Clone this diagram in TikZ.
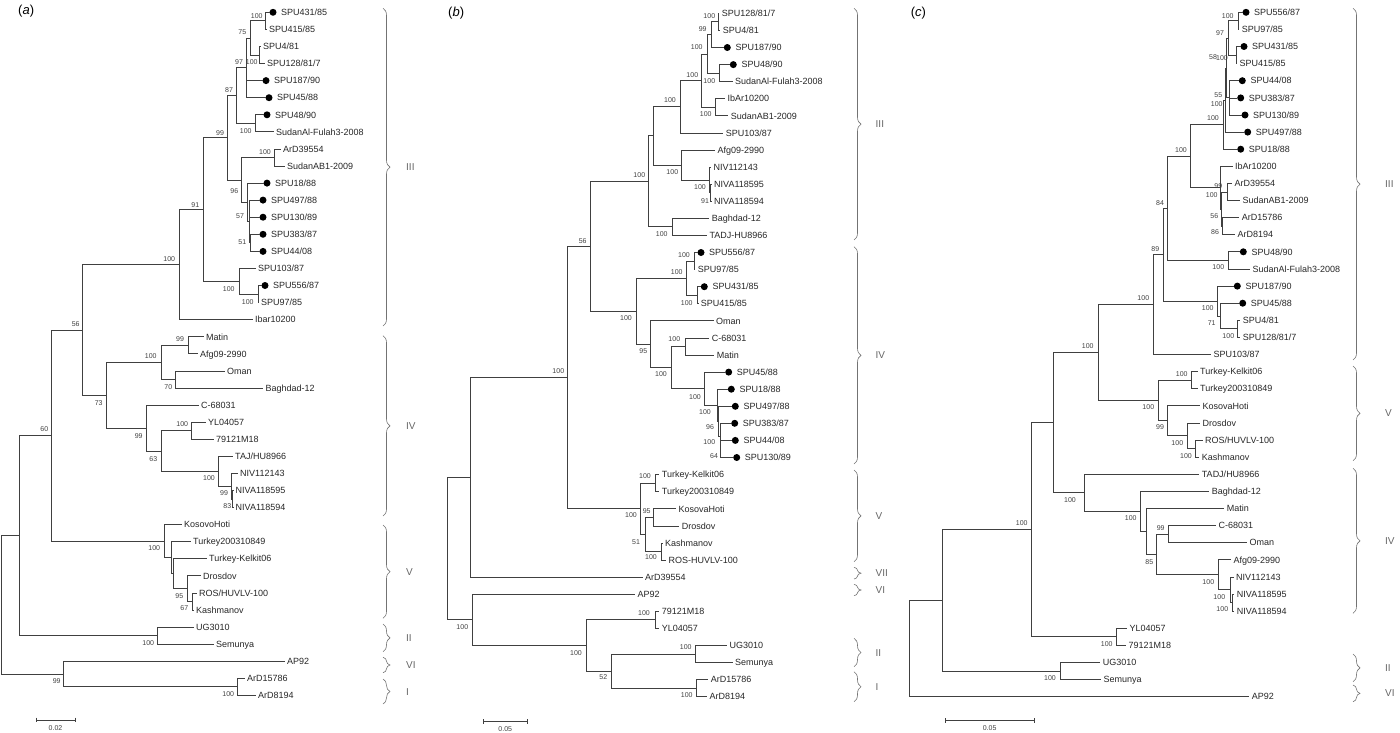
\documentclass[tikz,border=0pt]{standalone}
\usepackage{fontspec}
\setmainfont{Liberation Sans}
\usetikzlibrary{decorations.pathreplacing}

\tikzset{
  branch/.style={draw=black!75, line width=0.75pt},
  leaflab/.style={anchor=west, inner sep=0pt, text height=6.4pt, text depth=0pt,
    font=\fontsize{9}{10}\selectfont, text=black!85},
  leafdot/.style={circle, fill=black, inner sep=0pt, minimum size=7pt},
  bootlab/.style={inner sep=0pt, text height=5pt, text depth=0pt,
    font=\fontsize{7}{8}\selectfont, text=black!75},
  cladelab/.style={anchor=west, inner sep=0pt, text height=7.2pt, text depth=0pt,
    font=\fontsize{10}{12}\selectfont, text=black!60},
  cladebr/.style={draw=black!55, line width=0.6pt, decorate,
    decoration={brace, amplitude=7pt}},
  panlab/.style={anchor=west, inner sep=0pt, font=\fontsize{13}{15}\selectfont},
  scalebar/.style={draw=black!75, line width=0.75pt},
}

\newcounter{bootn}
% leaf: name, x of tip, y, text
\newcommand{\taxon}[4]{\coordinate (#1) at (#2,#3);
  \node[leaflab] (#1l) at ([xshift=2.5pt]#1) {#4};}
% leaf with a dot
\newcommand{\dtaxon}[4]{\coordinate (#1) at (#2,#3);
  \node[leafdot] (#1d) at ([xshift=3.5pt]#1) {};
  \node[leaflab] (#1l) at ([xshift=11.5pt]#1) {#4};}
\newcommand{\inode}[3]{\coordinate (#1) at (#2,#3);}
\newcommand{\clade}[2]{\foreach \k in {#2} {\draw[branch] (#1) |- (\k);}}
\newcommand{\boot}[3]{\stepcounter{bootn}\node[bootlab] (bt\arabic{bootn}) at (#1,#2) {#3};}
% brace: name, x, y1, y2, label x, text
\newcommand{\cladebrace}[6]{\draw[cladebr] (#2,#3) -- (#2,#4);
  \node[cladelab] (#1) at (#5,{(#3+#4)/2}) {#6};}

\begin{document}
\begin{tikzpicture}[x=1pt, y=-1pt]
\useasboundingbox (0,0) rectangle (1400,732);

%% ---------------- panel (a)
\node[panlab] (alab) at (18,11) {(\textit{a})};
\dtaxon{a1}{269.5}{12.3}{SPU431/85}
\taxon{a2}{266.5}{29.4}{SPU415/85}
\taxon{a3}{260.5}{46.5}{SPU4/81}
\taxon{a4}{264.5}{63.5}{SPU128/81/7}
\dtaxon{a5}{262.5}{80.6}{SPU187/90}
\dtaxon{a6}{265.5}{97.7}{SPU45/88}
\dtaxon{a7}{263.5}{114.8}{SPU48/90}
\taxon{a8}{273.5}{131.8}{SudanAl-Fulah3-2008}
\taxon{a9}{280.5}{148.9}{ArD39554}
\taxon{a10}{284.5}{166.0}{SudanAB1-2009}
\dtaxon{a11}{263.5}{183.1}{SPU18/88}
\dtaxon{a12}{259.5}{200.1}{SPU497/88}
\dtaxon{a13}{259.5}{217.2}{SPU130/89}
\dtaxon{a14}{259.5}{234.3}{SPU383/87}
\dtaxon{a15}{259.5}{251.4}{SPU44/08}
\taxon{a16}{255.5}{268.4}{SPU103/87}
\dtaxon{a17}{261.5}{285.5}{SPU556/87}
\taxon{a18}{258.5}{302.6}{SPU97/85}
\taxon{a19}{252.5}{319.7}{Ibar10200}
\taxon{a20}{203.5}{336.8}{Matin}
\taxon{a21}{197.5}{353.8}{Afg09-2990}
\taxon{a22}{224.5}{370.9}{Oman}
\taxon{a23}{263}{388.0}{Baghdad-12}
\taxon{a24}{198.5}{405.1}{C-68031}
\taxon{a25}{205.5}{422.1}{YL04057}
\taxon{a26}{213.5}{439.2}{79121M18}
\taxon{a27}{232.5}{456.3}{TAJ/HU8966}
\taxon{a28}{237.5}{473.4}{NIV112143}
\taxon{a29}{233}{490.4}{NIVA118595}
\taxon{a30}{233}{507.5}{NIVA118594}
\taxon{a31}{181.5}{524.6}{KosovoHoti}
\taxon{a32}{190.5}{541.7}{Turkey200310849}
\taxon{a33}{206.5}{558.7}{Turkey-Kelkit06}
\taxon{a34}{200.5}{575.8}{Drosdov}
\taxon{a35}{196.5}{592.9}{ROS/HUVLV-100}
\taxon{a36}{193.5}{610.0}{Kashmanov}
\taxon{a37}{193.5}{627.1}{UG3010}
\taxon{a38}{213.5}{644.1}{Semunya}
\taxon{a39}{284.5}{661.2}{AP92}
\taxon{a40}{244.5}{678.3}{ArD15786}
\taxon{a41}{255.5}{695.4}{ArD8194}

\inode{aN1}{265.7}{20.85}   \clade{aN1}{a1,a2}
\inode{aN2}{259.3}{55}      \clade{aN2}{a3,a4}
\inode{aN75}{250}{37.9}     \clade{aN75}{aN1,aN2}
\inode{aN97}{246.7}{67.8}   \clade{aN97}{aN75,a5,a6}
\inode{aN100d}{255}{123.3}  \clade{aN100d}{a7,a8}
\inode{aN87}{236.7}{95.55}  \clade{aN87}{aN97,aN100d}
\inode{aN100e}{274}{157.45} \clade{aN100e}{a9,a10}
\inode{aN51}{250}{242.85}   \clade{aN51}{a14,a15}
\inode{aN57}{249}{221.5}    \clade{aN57}{a12,a13,aN51}
\inode{aNA}{247.7}{202.3}   \clade{aNA}{a11,aN57}
\inode{aN96}{241.7}{179.9}  \clade{aN96}{aN100e,aNA}
\inode{aN99}{227.7}{137.7}  \clade{aN99}{aN87,aN96}
\inode{aNc}{258.3}{294.05}  \clade{aNc}{a17,a18}
\inode{aNb}{239.3}{281.2}   \clade{aNb}{a16,aNc}
\inode{aN91}{203.3}{209.5}  \clade{aN91}{aN99,aNb}
\inode{aN100}{179}{264.6}   \clade{aN100}{aN91,a19}
\inode{aN99c}{188.3}{345.3} \clade{aN99c}{a20,a21}
\inode{aN70}{175.7}{379.45} \clade{aN70}{a22,a23}
\inode{aN100f}{161}{362.4}  \clade{aN100f}{aN99c,aN70}
\inode{aN100g}{191.7}{430.65} \clade{aN100g}{a25,a26}
\inode{aN99d}{232.5}{498.95} \clade{aN99d}{a29,a30}
\inode{aNNIV}{231.5}{486.2} \clade{aNNIV}{a28,aN99d}
\inode{aN100h}{218.3}{471.25} \clade{aN100h}{a27,aNNIV}
\inode{aN63}{161}{450.95}   \clade{aN63}{aN100g,aN100h}
\inode{aN99b}{146.7}{428}   \clade{aN99b}{a24,aN63}
\inode{aN73}{106.7}{395.2}  \clade{aN73}{aN100f,aN99b}
\inode{aN56}{82.7}{329.9}   \clade{aN56}{aN100,aN73}
\inode{aN67}{192.7}{601.45} \clade{aN67}{a35,a36}
\inode{aN95}{187.3}{588.6}  \clade{aN95}{a34,aN67}
\inode{aNT2}{173.3}{573.65} \clade{aNT2}{a33,aN95}
\inode{aNT}{171.7}{557.7}   \clade{aNT}{a32,aNT2}
\inode{aN100i}{164}{541.15} \clade{aN100i}{a31,aNT}
\inode{aN60}{51.7}{435.5}   \clade{aN60}{aN56,aN100i}
\inode{aNUG}{157.3}{635.6}  \clade{aNUG}{a37,a38}
\inode{aNr1}{19}{535.55}    \clade{aNr1}{aN60,aNUG}
\inode{aNArD}{237.7}{686.85} \clade{aNArD}{a40,a41}
\inode{aN99AP}{63.7}{674}   \clade{aN99AP}{a39,aNArD}
\inode{aRoot}{1.5}{604.8}   \clade{aRoot}{aNr1,aN99AP}

\boot{256.7}{15.7}{100} \boot{242.3}{32.3}{75} \boot{239}{61.7}{97}
\boot{251.7}{61.7}{100} \boot{229}{90}{87} \boot{245.7}{131}{100}
\boot{220}{133.3}{99} \boot{265}{151.7}{100} \boot{234.3}{190.7}{96}
\boot{240}{216}{57} \boot{242.3}{242.3}{51} \boot{195.3}{204.7}{91}
\boot{169.3}{259}{100} \boot{228.7}{289.3}{100} \boot{247.7}{302}{100}
\boot{75.7}{324}{56} \boot{180}{339.3}{99} \boot{150.7}{356}{100}
\boot{168.3}{386.7}{70} \boot{98.7}{403}{73} \boot{182.3}{424.3}{100}
\boot{138.7}{436}{99} \boot{153.3}{458.7}{63} \boot{209}{478.3}{100}
\boot{224}{493.3}{99} \boot{227.3}{506}{83} \boot{44.3}{429.3}{60}
\boot{154.3}{548.3}{100} \boot{179.3}{596}{95} \boot{184.3}{608.3}{67}
\boot{148.3}{642.7}{100} \boot{56.7}{681}{99} \boot{228.3}{694.3}{100}

\cladebrace{aIII}{383}{8.3}{326}{406}{III}
\cladebrace{aIV}{383}{335.7}{516}{406}{IV}
\cladebrace{aV}{383}{525}{618.3}{406}{V}
\cladebrace{aII}{383}{624}{651.7}{406}{II}
\cladebrace{aVI}{383}{657.3}{672.7}{406}{VI}
\cladebrace{aI}{383}{679}{704}{406}{I}

\coordinate (asb1) at (36,720); \coordinate (asb2) at (75,720);
\draw[scalebar] (asb1) -- (asb2) ([yshift=2.3pt]asb1) -- ([yshift=-2.3pt]asb1)
  ([yshift=2.3pt]asb2) -- ([yshift=-2.3pt]asb2);
\node[bootlab] (asbl) at (55.5,728.3) {0.02};

%% ---------------- panel (b)
\node[panlab] (blab) at (448,13) {(\textit{b})};
\taxon{b1}{719.2}{13.3}{SPU128/81/7}
\taxon{b2}{720.2}{30.4}{SPU4/81}
\dtaxon{b3}{723.8}{47.5}{SPU187/90}
\dtaxon{b4}{729.8}{64.6}{SPU48/90}
\taxon{b5}{732.5}{81.6}{SudanAl-Fulah3-2008}
\taxon{b6}{724.8}{98.7}{IbAr10200}
\taxon{b7}{728.2}{115.8}{SudanAB1-2009}
\taxon{b8}{723.2}{132.9}{SPU103/87}
\taxon{b9}{714.8}{150.0}{Afg09-2990}
\taxon{b10}{710.8}{167.1}{NIV112143}
\taxon{b11}{711.5}{184.2}{NIVA118595}
\taxon{b12}{711.5}{201.2}{NIVA118594}
\taxon{b13}{709.2}{218.3}{Baghdad-12}
\taxon{b14}{706.8}{235.4}{TADJ-HU8966}
\dtaxon{b15}{697.5}{252.5}{SPU556/87}
\taxon{b16}{695.2}{269.6}{SPU97/85}
\dtaxon{b17}{700.8}{286.7}{SPU431/85}
\taxon{b18}{698.2}{303.7}{SPU415/85}
\taxon{b19}{713.5}{320.8}{Oman}
\taxon{b20}{709.2}{337.9}{C-68031}
\taxon{b21}{714.2}{355.0}{Matin}
\dtaxon{b22}{725.2}{372.1}{SPU45/88}
\dtaxon{b23}{727.8}{389.2}{SPU18/88}
\dtaxon{b24}{731.8}{406.3}{SPU497/88}
\dtaxon{b25}{731.2}{423.3}{SPU383/87}
\dtaxon{b26}{731.8}{440.4}{SPU44/08}
\dtaxon{b27}{733.2}{457.5}{SPU130/89}
\taxon{b28}{659.2}{474.6}{Turkey-Kelkit06}
\taxon{b29}{659.2}{491.7}{Turkey200310849}
\taxon{b30}{675.8}{508.8}{KosovaHoti}
\taxon{b31}{679.2}{525.9}{Drosdov}
\taxon{b32}{662.5}{542.9}{Kashmanov}
\taxon{b33}{665.8}{560.0}{ROS-HUVLV-100}
\taxon{b34}{642.5}{577.1}{ArD39554}
\taxon{b35}{634.8}{594.2}{AP92}
\taxon{b36}{659.2}{611.3}{79121M18}
\taxon{b37}{659.2}{628.4}{YL04057}
\taxon{b38}{726.8}{645.5}{UG3010}
\taxon{b39}{732.5}{662.5}{Semunya}
\taxon{b40}{708.2}{679.6}{ArD15786}
\taxon{b41}{706.8}{696.7}{ArD8194}

\inode{bN1}{718.3}{21.85}    \clade{bN1}{b1,b2}
\inode{bN99}{711.7}{34.7}    \clade{bN99}{bN1,b3}
\inode{bNSA}{719.3}{73.1}    \clade{bNSA}{b4,b5}
\inode{bN100a}{707.7}{53.9}  \clade{bN100a}{bN99,bNSA}
\inode{bNIb}{715.7}{107.25}  \clade{bNIb}{b6,b7}
\inode{bN100b}{701.7}{80.6}  \clade{bN100b}{bN100a,bNIb}
\inode{bNu}{680.7}{106.75}   \clade{bNu}{bN100b,b8}
\inode{bN100N}{710}{192.7}   \clade{bN100N}{b11,b12}
\inode{bNNIV}{709.3}{179.9}  \clade{bNNIV}{b10,bN100N}
\inode{bNAfg}{681}{164.95}   \clade{bNAfg}{b9,bNNIV}
\inode{bNA}{653.3}{135.85}   \clade{bNA}{bNu,bNAfg}
\inode{bNBT}{672.3}{226.85}  \clade{bNBT}{b13,b14}
\inode{bNIII}{648.3}{181.35} \clade{bNIII}{bNA,bNBT}
\inode{bN100x1}{694.3}{261.05} \clade{bN100x1}{b15,b16}
\inode{bN100x2}{697.7}{295.2}  \clade{bN100x2}{b17,b18}
\inode{bNSPU}{686.7}{278.1}  \clade{bNSPU}{bN100x1,bN100x2}
\inode{bNCM}{685}{346.45}    \clade{bNCM}{b20,b21}
\inode{bN64}{720.7}{448.95}  \clade{bN64}{b26,b27}
\inode{bN100u}{720}{436.1}   \clade{bN100u}{b25,bN64}
\inode{bN96}{718.7}{421.2}   \clade{bN96}{b24,bN100u}
\inode{bN100T}{717.3}{405.2} \clade{bN100T}{b23,bN96}
\inode{bNS}{704.3}{388.65}   \clade{bNS}{b22,bN100T}
\inode{bNL}{671}{367.55}     \clade{bNL}{bNCM,bNS}
\inode{bN95}{650.7}{344.2}   \clade{bN95}{b19,bNL}
\inode{bNIV}{636}{311.15}    \clade{bNIV}{bNSPU,bN95}
\inode{bN56}{590}{246.25}    \clade{bN56}{bNIII,bNIV}
\inode{bNTK}{655}{483.15}    \clade{bNTK}{b28,b29}
\inode{bN95V}{653.3}{517.35} \clade{bN95V}{b30,b31}
\inode{bNKR}{661.7}{551.45}  \clade{bNKR}{b32,b33}
\inode{bN51}{645.7}{534.4}   \clade{bN51}{bN95V,bNKR}
\inode{bNV}{640}{508.8}      \clade{bNV}{bNTK,bN51}
\inode{bN100X}{567.7}{377.5} \clade{bN100X}{bN56,bNV}
\inode{bNup}{470.7}{477.3}   \clade{bNup}{bN100X,b34}
\inode{bNYL}{655}{619.85}    \clade{bNYL}{b36,b37}
\inode{bNUG}{695.7}{654}     \clade{bNUG}{b38,b39}
\inode{bNArD}{696.7}{688.15} \clade{bNArD}{b40,b41}
\inode{bN52}{611.7}{671.1}   \clade{bN52}{bNUG,bNArD}
\inode{bNc}{586.7}{645.5}    \clade{bNc}{bNYL,bN52}
\inode{bNAP}{472.3}{619.85}  \clade{bNAP}{b35,bNc}
\inode{bRoot}{447.3}{548.6}  \clade{bRoot}{bNup,bNAP}

\boot{709.3}{15.7}{100} \boot{702.7}{29}{99} \boot{696.7}{47}{100}
\boot{709.3}{80.7}{100} \boot{692.3}{75.3}{100} \boot{705.7}{114.3}{100}
\boot{670}{100}{100} \boot{672.3}{172.3}{100} \boot{700}{186.7}{100}
\boot{705}{201}{91} \boot{661.7}{234.3}{100} \boot{639.3}{175}{100}
\boot{582.7}{240.7}{56} \boot{684}{255}{100} \boot{676.7}{271.7}{100}
\boot{686.7}{302.7}{100} \boot{626}{317.7}{100} \boot{643.3}{350.7}{95}
\boot{674.3}{339.3}{100} \boot{661}{374.3}{100} \boot{695}{396.7}{100}
\boot{705}{411.7}{100} \boot{710}{426.7}{96} \boot{709.3}{441.7}{100}
\boot{714}{455.7}{64} \boot{558.3}{371}{100} \boot{645}{476}{100}
\boot{646.7}{510.7}{95} \boot{631}{515}{100} \boot{636}{541.7}{51}
\boot{651}{557.3}{100} \boot{462.3}{626.7}{100} \boot{644}{613.3}{100}
\boot{576}{652.7}{100} \boot{685.7}{647.3}{100} \boot{603.3}{677.3}{52}
\boot{686.7}{695}{100}

\cladebrace{bIII}{854}{8.3}{240}{875.5}{III}
\cladebrace{bIV}{854}{246.7}{464}{875.5}{IV}
\cladebrace{bV}{854}{470}{561.7}{875.5}{V}
\cladebrace{bVII}{854}{567.3}{579}{875.5}{VII}
\cladebrace{bVI}{854}{584.3}{595.7}{875.5}{VI}
\cladebrace{bII}{854}{638.3}{666.7}{875.5}{II}
\cladebrace{bI}{854}{671.7}{701.7}{875.5}{I}

\coordinate (bsb1) at (483.3,721.7); \coordinate (bsb2) at (527.3,721.7);
\draw[scalebar] (bsb1) -- (bsb2) ([yshift=2.3pt]bsb1) -- ([yshift=-2.3pt]bsb1)
  ([yshift=2.3pt]bsb2) -- ([yshift=-2.3pt]bsb2);
\node[bootlab] (bsbl) at (505.3,728.6) {0.05};

%% ---------------- panel (c)
\node[panlab] (clab) at (910.7,13.3) {(\textit{c})};
\dtaxon{c1}{1242.5}{12.3}{SPU556/87}
\taxon{c2}{1239.2}{29.4}{SPU97/85}
\dtaxon{c3}{1240.5}{46.5}{SPU431/85}
\taxon{c4}{1236.8}{63.6}{SPU415/85}
\dtaxon{c5}{1238.8}{80.7}{SPU44/08}
\dtaxon{c6}{1237.2}{97.9}{SPU383/87}
\dtaxon{c7}{1241.5}{115.0}{SPU130/89}
\dtaxon{c8}{1244.2}{132.1}{SPU497/88}
\dtaxon{c9}{1237.2}{149.2}{SPU18/88}
\taxon{c10}{1232.5}{166.3}{IbAr10200}
\taxon{c11}{1231.8}{183.4}{ArD39554}
\taxon{c12}{1239.8}{200.5}{SudanAB1-2009}
\taxon{c13}{1239.2}{217.6}{ArD15786}
\taxon{c14}{1234.8}{234.7}{ArD8194}
\dtaxon{c15}{1239.8}{251.8}{SPU48/90}
\taxon{c16}{1249.8}{268.9}{SudanAl-Fulah3-2008}
\dtaxon{c17}{1233.8}{286.1}{SPU187/90}
\dtaxon{c18}{1239.2}{303.2}{SPU45/88}
\taxon{c19}{1240.2}{320.3}{SPU4/81}
\taxon{c20}{1240.2}{337.4}{SPU128/81/7}
\taxon{c21}{1210.8}{354.5}{SPU103/87}
\taxon{c22}{1197.5}{371.6}{Turkey-Kelkit06}
\taxon{c23}{1197.5}{388.7}{Turkey200310849}
\taxon{c24}{1199.8}{405.8}{KosovaHoti}
\taxon{c25}{1199.8}{422.9}{Drosdov}
\taxon{c26}{1202.5}{440.0}{ROS/HUVLV-100}
\taxon{c27}{1199.2}{457.1}{Kashmanov}
\taxon{c28}{1199.2}{474.2}{TADJ/HU8966}
\taxon{c29}{1209.2}{491.3}{Baghdad-12}
\taxon{c30}{1224.2}{508.4}{Matin}
\taxon{c31}{1215.8}{525.5}{C-68031}
\taxon{c32}{1246.8}{542.7}{Oman}
\taxon{c33}{1230.8}{559.8}{Afg09-2990}
\taxon{c34}{1233.5}{576.9}{NIV112143}
\taxon{c35}{1234.2}{594.0}{NIVA118595}
\taxon{c36}{1234.2}{611.1}{NIVA118594}
\taxon{c37}{1126.8}{628.2}{YL04057}
\taxon{c38}{1125.8}{645.3}{79121M18}
\taxon{c39}{1100.2}{662.4}{UG3010}
\taxon{c40}{1100.8}{679.5}{Semunya}
\taxon{c41}{1249.2}{696.6}{AP92}

\inode{cN100a}{1238.3}{20.85} \clade{cN100a}{c1,c2}
\inode{cN100b}{1236}{55.05}   \clade{cN100b}{c3,c4}
\inode{cN97}{1228}{37.95}     \clade{cN97}{cN100a,cN100b}
\inode{cN55}{1229.3}{97.85}   \clade{cN55}{c5,c6,c7}
\inode{cN58}{1226}{67.9}      \clade{cN58}{cN97,cN55}
\inode{cNX}{1225}{100}        \clade{cNX}{cN58,c8}
\inode{cNB}{1223.3}{124.6}    \clade{cNB}{cNX,c9}
\inode{cN99}{1227.7}{191.95}  \clade{cN99}{c11,c12}
\inode{cN86}{1222.5}{226.15}  \clade{cN86}{c13,c14}
\inode{cNY}{1221.3}{209.05}   \clade{cNY}{cN99,cN86}
\inode{cNC}{1220}{187.7}      \clade{cNC}{c10,cNY}
\inode{cNA}{1190.7}{156.15}   \clade{cNA}{cNB,cNC}
\inode{cNSA}{1228.3}{260.35}  \clade{cNSA}{c15,c16}
\inode{cN84}{1167.3}{208.25}  \clade{cN84}{cNA,cNSA}
\inode{cN100f}{1237.7}{328.85} \clade{cN100f}{c19,c20}
\inode{cN71}{1220}{316}       \clade{cN71}{c18,cN100f}
\inode{cN187}{1217.7}{301.05} \clade{cN187}{c17,cN71}
\inode{cN89}{1163.3}{254.65}  \clade{cN89}{cN84,cN187}
\inode{cN100u}{1153.3}{304.6} \clade{cN100u}{cN89,c21}
\inode{cNTK}{1191.7}{380.15}  \clade{cNTK}{c22,c23}
\inode{cN100K}{1195}{448.55}  \clade{cN100K}{c26,c27}
\inode{cN100D}{1187.3}{435.7} \clade{cN100D}{c25,cN100K}
\inode{cN99V}{1167.3}{420.75} \clade{cN99V}{c24,cN100D}
\inode{cNV}{1158.3}{400.45}   \clade{cNV}{cNTK,cN99V}
\inode{cNIIIV}{1098.3}{352.5} \clade{cNIIIV}{cN100u,cNV}
\inode{cN100I}{1232.3}{602.55} \clade{cN100I}{c35,c36}
\inode{cNH}{1230}{589.7}      \clade{cNH}{c34,cN100I}
\inode{cN100G}{1218.3}{574.75} \clade{cN100G}{c33,cNH}
\inode{cN99C}{1168.3}{534.1}  \clade{cN99C}{c31,c32}
\inode{cN85}{1156.7}{554.4}   \clade{cN85}{cN99C,cN100G}
\inode{cNF}{1146.7}{531.4}    \clade{cNF}{c30,cN85}
\inode{cNE}{1140}{511.35}     \clade{cNE}{c29,cNF}
\inode{cNIV}{1084}{492.8}     \clade{cNIV}{c28,cNE}
\inode{cNS}{1053.3}{422.65}   \clade{cNS}{cNIIIV,cNIV}
\inode{cNYL}{1116.7}{636.75}  \clade{cNYL}{c37,c38}
\inode{cNR}{1031.7}{529.7}    \clade{cNR}{cNS,cNYL}
\inode{cNUG}{1060}{670.95}    \clade{cNUG}{c39,c40}
\inode{cNa}{942.7}{600.3}     \clade{cNa}{cNR,cNUG}
\inode{cRoot}{909.3}{648.45}  \clade{cRoot}{cNa,c41}

\boot{1227.7}{15.7}{100} \boot{1220}{33.3}{97} \boot{1213}{57}{58}
\boot{1222}{58}{100} \boot{1218.3}{95}{55} \boot{1216.7}{104}{100}
\boot{1213}{117.5}{100} \boot{1218.3}{185.7}{99} \boot{1211.7}{195}{100}
\boot{1214.3}{216}{56} \boot{1215}{232.3}{86} \boot{1181}{150}{100}
\boot{1160}{202.7}{84} \boot{1155.3}{249}{89} \boot{1218.3}{267.3}{100}
\boot{1207.7}{308.3}{100} \boot{1211.7}{322.7}{71} \boot{1228.3}{336}{100}
\boot{1143.3}{297.7}{100} \boot{1087.7}{346}{100} \boot{1181.7}{374}{100}
\boot{1148.3}{406.7}{100} \boot{1160}{427.3}{99} \boot{1177.3}{442.7}{100}
\boot{1186}{456}{100} \boot{1070}{500}{100} \boot{1130.7}{517.7}{100}
\boot{1160.7}{528.3}{99} \boot{1149.3}{561.7}{85} \boot{1208.3}{581.7}{100}
\boot{1219.3}{596.7}{100} \boot{1222.3}{609.3}{100} \boot{1021.7}{523.3}{100}
\boot{1106.7}{644.3}{100} \boot{1050}{677.7}{100}

\cladebrace{cIII}{1353}{8.3}{360}{1385}{III}
\cladebrace{cV}{1353}{366}{460.7}{1385}{V}
\cladebrace{cIV}{1353}{468.3}{613.3}{1385}{IV}
\cladebrace{cII}{1353}{654}{681.7}{1385}{II}
\cladebrace{cVI}{1353}{685}{701.7}{1385}{VI}

\coordinate (csb1) at (945,720.7); \coordinate (csb2) at (1034.3,720.7);
\draw[scalebar] (csb1) -- (csb2) ([yshift=2.3pt]csb1) -- ([yshift=-2.3pt]csb1)
  ([yshift=2.3pt]csb2) -- ([yshift=-2.3pt]csb2);
\node[bootlab] (csbl) at (989.6,728.4) {0.05};
\end{tikzpicture}
\end{document}
